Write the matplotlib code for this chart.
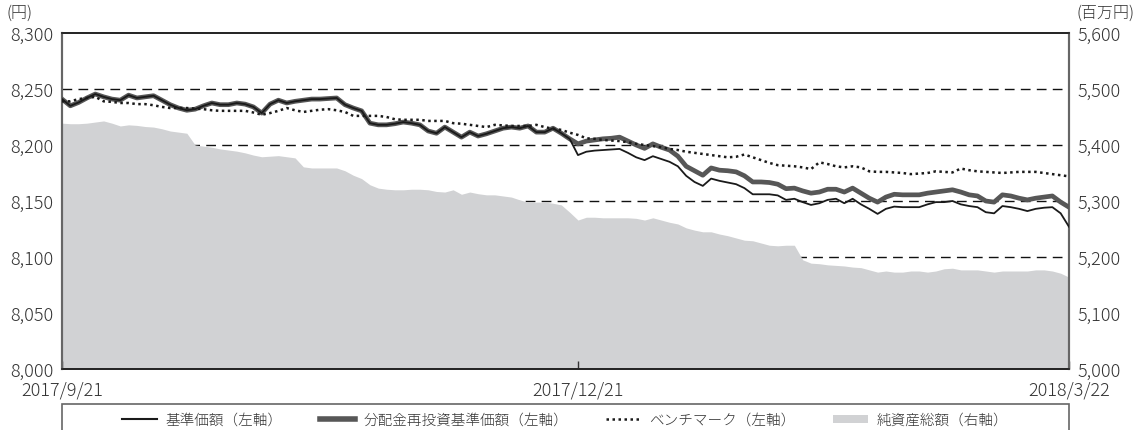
import matplotlib
matplotlib.use("Agg")
import matplotlib.pyplot as plt
from matplotlib.lines import Line2D
from matplotlib.patches import Patch, Rectangle
import numpy as np

plt.rcParams['font.family'] = ['Noto Sans CJK JP', 'DejaVu Sans']
plt.rcParams['font.weight'] = 'light'

# 基準価額 (left axis, yen) - one value per trading day
nav = [8241, 8235, 8238, 8242, 8245.5, 8243, 8241, 8240, 8244.5, 8242,
       8243, 8244, 8240, 8236, 8233, 8231, 8232, 8235, 8237.5, 8236,
       8236, 8237.5, 8236.5, 8234, 8228.5, 8236.5, 8240, 8237.5, 8239, 8240,
       8241, 8241, 8241.5, 8242, 8236, 8233, 8230.5, 8219.5, 8218, 8218,
       8219, 8220.5, 8219.5, 8218, 8212.5, 8210.5, 8216, 8211.5, 8207, 8211.5,
       8208, 8210, 8212.5, 8215, 8216, 8215, 8217, 8211.5, 8211.5, 8215,
       8210.5, 8205.5, 8191, 8194, 8195, 8195.5, 8196, 8196.5, 8193, 8189,
       8186.5, 8190, 8187.5, 8185, 8181, 8172.5, 8167, 8163.5, 8170, 8168,
       8166.5, 8165, 8161.5, 8156, 8156, 8156, 8155, 8151, 8152, 8149,
       8146.5, 8148, 8151, 8152, 8148, 8152, 8147, 8143, 8138.5, 8143,
       8145, 8144.5, 8144.5, 8144.5, 8147, 8149, 8149, 8150, 8147, 8145.5,
       8144.5, 8140, 8139, 8145.5, 8144.5, 8143, 8141, 8143, 8144, 8144.5,
       8139, 8127]

# 分配金再投資基準価額 (left axis, yen)
nav_reinv = [8241, 8235, 8238, 8242, 8245.5, 8243, 8241, 8240, 8244.5, 8242,
             8243, 8244, 8240, 8236, 8233, 8231, 8232, 8235, 8237.5, 8236,
             8236, 8237.5, 8236.5, 8234, 8228.5, 8236.5, 8240, 8237.5, 8239, 8240,
             8241, 8241, 8241.5, 8242, 8236, 8233, 8230.5, 8219.5, 8218, 8218,
             8219, 8220.5, 8219.5, 8218, 8212.5, 8210.5, 8216, 8211.5, 8207, 8211.5,
             8208, 8210, 8212.5, 8215, 8216, 8215, 8217, 8211.5, 8211.5, 8215,
             8210.5, 8205.5, 8201, 8203.5, 8204.5, 8205.5, 8206, 8207, 8203.5, 8200,
             8197, 8201, 8198, 8195.5, 8190, 8181, 8177, 8173, 8179.5, 8177.5,
             8177, 8176, 8172.5, 8167, 8167, 8166.5, 8165, 8161, 8161.5, 8159,
             8157, 8158, 8160.5, 8160.5, 8158, 8161.5, 8157, 8152.5, 8149, 8153.5,
             8156, 8155.5, 8155.5, 8155.5, 8157, 8158, 8159, 8160, 8158, 8155.5,
             8154.5, 8150, 8149, 8155.5, 8154.5, 8152.5, 8151, 8152.5, 8153.5, 8154.5,
             8149, 8144.5]

# ベンチマーク (left axis, yen)
bench = [8239, 8239, 8241, 8242, 8243, 8239, 8238.5, 8237.5, 8237.5, 8236.5,
         8236.5, 8235.5, 8234, 8233, 8233, 8233, 8232.5, 8232, 8231, 8230.5,
         8230.5, 8230.5, 8230.5, 8229, 8227, 8228.5, 8230.5, 8233, 8231, 8229.5,
         8230.5, 8231.5, 8232, 8231, 8229.5, 8226, 8226, 8226, 8226, 8225,
         8223, 8222.5, 8222.5, 8222.5, 8221.5, 8221.5, 8221.5, 8219.5, 8219, 8218,
         8217, 8216, 8218, 8217.5, 8217, 8217, 8217, 8218, 8216, 8214.5,
         8213.5, 8211, 8209, 8206, 8205.5, 8204.5, 8204, 8203.5, 8202.5, 8201,
         8200, 8199, 8198, 8196.5, 8195.5, 8194, 8193, 8192, 8191, 8190,
         8189, 8189.5, 8191.5, 8189, 8186.5, 8184, 8182, 8181.5, 8181, 8180,
         8178.5, 8184.5, 8183, 8181, 8180, 8181, 8180, 8176.5, 8176, 8176,
         8175.5, 8175, 8174, 8174.5, 8175, 8176.5, 8176, 8175.5, 8179, 8177.5,
         8176.5, 8176, 8175.5, 8175, 8175.5, 8176, 8176, 8176, 8175, 8174,
         8173, 8172]

# 純資産総額 (right axis, million yen)
net_assets = [5439, 5438, 5438, 5439, 5441, 5443, 5439, 5434, 5436, 5435,
              5433, 5432, 5429, 5425, 5423, 5421, 5400, 5398, 5396, 5393,
              5391, 5389, 5386, 5382, 5379, 5380, 5381, 5379, 5377, 5361,
              5359, 5359, 5359, 5359, 5354, 5346, 5340, 5329, 5323, 5321,
              5320, 5320, 5321, 5321, 5320, 5317, 5316, 5320, 5312, 5316,
              5313, 5311, 5311, 5309, 5307, 5302, 5298, 5298, 5298, 5296,
              5293, 5280, 5266, 5271, 5271, 5270, 5270, 5270, 5270, 5269,
              5266, 5270, 5266, 5262, 5259, 5252, 5248, 5245, 5245, 5241,
              5238, 5234, 5230, 5229, 5225, 5221, 5220, 5221, 5221, 5195,
              5189, 5188, 5186, 5185, 5184, 5182, 5181, 5177, 5173, 5175,
              5173, 5173, 5175, 5175, 5173, 5175, 5179, 5180, 5177, 5177,
              5177, 5175, 5173, 5175, 5175, 5175, 5175, 5177, 5177, 5175,
              5171, 5164]

date_ticks = [0, 62, 121]
date_labels = ['2017/9/21', '2017/12/21', '2018/3/22']
left_ticks = [8000, 8050, 8100, 8150, 8200, 8250, 8300]
right_ticks = [5000, 5100, 5200, 5300, 5400, 5500, 5600]

x = np.arange(len(nav))
text_color = '#333333'

fig = plt.figure(figsize=(11.44, 4.31), dpi=100)
ax1 = fig.add_axes([62 / 1144, 1 - 370 / 431, 1007 / 1144, 336 / 431])
ax2 = ax1.twinx()

# right axis sits behind: grid + area, lines go on top
ax1.set_zorder(2)
ax1.patch.set_visible(False)
ax2.set_zorder(1)

ax2.set_ylim(5000, 5600)
ax2.set_yticks(right_ticks)
ax2.set_yticklabels([f'{v:,}' for v in right_ticks])
# dashed guides only for the inner ticks, the area hides them where it is higher
for v in right_ticks[1:-1]:
    ax2.axhline(v, color='#111111', linestyle=(0, (7, 4.5)), linewidth=1.0, zorder=1)
ax2.fill_between(x, 5000, net_assets, color='#d1d2d4', linewidth=0, zorder=2)

ax1.plot(x, nav_reinv, color='#575757', linewidth=3.4, solid_joinstyle='round', zorder=3)
ax1.plot(x, nav, color='#1a1a1a', linewidth=1.3, zorder=4)
ax1.plot(x, bench, color='#1a1a1a', linewidth=1.8, linestyle=(0, (1, 1.4)), zorder=5)

ax1.set_xlim(0, len(nav) - 1)
ax1.set_ylim(8000, 8300)
ax1.set_yticks(left_ticks)
ax1.set_yticklabels([f'{v:,}' for v in left_ticks])
ax1.set_xticks(date_ticks)
ax1.set_xticklabels(date_labels)

ax1.tick_params(axis='y', length=0, pad=6, labelsize=13, labelcolor=text_color)
ax2.tick_params(axis='y', length=0, pad=6, labelsize=13, labelcolor=text_color)
ax1.tick_params(axis='x', direction='in', length=6, width=1, color='#333333',
                pad=8, labelsize=13, labelcolor=text_color)

for ax in (ax1, ax2):
    for side in ('top', 'bottom'):
        ax.spines[side].set_color('#222222')
        ax.spines[side].set_linewidth(1.2)
    for side in ('left', 'right'):
        ax.spines[side].set_color('#666666')
        ax.spines[side].set_linewidth(1.5)

fig.text(20 / 1144, 1 - 13 / 431, '(円)', ha='center', va='center',
         fontsize=11.5, color=text_color)
fig.text(1105 / 1144, 1 - 13 / 431, '(百万円)', ha='center', va='center',
         fontsize=11.5, color=text_color)

# legend box (bottom edge runs off the image like in the original)
fig.patches.append(Rectangle((62 / 1144, -0.05), 1007 / 1144, 0.05 + 1 - 405 / 431,
                             transform=fig.transFigure, facecolor='white',
                             edgecolor='#666666', linewidth=1.2))
handles = [
    Line2D([], [], color='#1a1a1a', linewidth=1.5),
    Line2D([], [], color='#575757', linewidth=4),
    Line2D([], [], color='#1a1a1a', linewidth=1.8, linestyle=(0, (1, 1.4))),
    Patch(facecolor='#d1d2d4', edgecolor='none'),
]
labels = ['基準価額（左軸）', '分配金再投資基準価額（左軸）', 'ベンチマーク（左軸）', '純資産総額（右軸）']
fig.legend(handles, labels, loc='center', bbox_to_anchor=(565 / 1144, 1 - 421 / 431),
           ncol=4, frameon=False, fontsize=10.5, handlelength=2.4,
           handleheight=0.45, handletextpad=0.55, columnspacing=2.6,
           labelcolor=text_color)

fig.savefig('out.png', dpi=100)
